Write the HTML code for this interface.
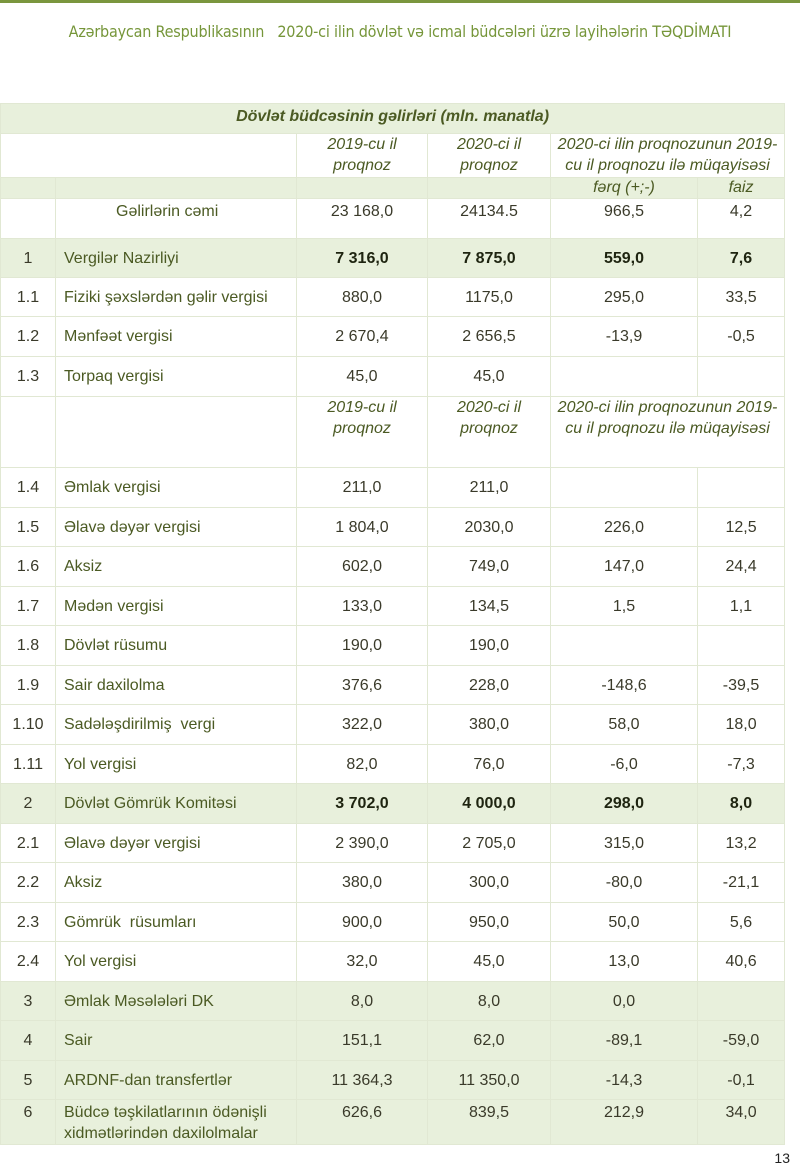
<!DOCTYPE html>
<html><head><meta charset="utf-8"><style>
body{margin:0;width:800px;height:1166px;background:#fff;position:relative;font-family:"Liberation Sans",Arial,sans-serif;overflow:hidden}
.top{position:absolute;left:0;top:0;width:800px;height:3px;background:#7a963e}
.hdr{position:absolute;top:22px;left:0;width:800px;text-align:center;font-size:16px;color:#76963a;font-family:"DejaVu Sans Condensed","Liberation Sans",sans-serif;letter-spacing:-0.2px}
.pg{position:absolute;right:10px;top:1150px;font-size:14px;color:#222}
table{position:absolute;left:0;top:103px;width:784px;border-collapse:collapse;table-layout:fixed}
td{border:1.5px solid #e1e8d3;padding:0;vertical-align:top;font-size:16px;color:#3a3a2a;text-align:center;line-height:21px;white-space:nowrap}
td.l{text-align:left;padding-left:8px;color:#4b5a23}
tr.g td{background:#e8f0dc}
.i{font-style:italic;color:#4b5a23}
b{color:#1e2410}
.t td{padding-top:9px}
</style></head><body>
<div class="top"></div>
<div class="hdr">Azərbaycan Respublikasının &nbsp; 2020-ci ilin dövlət və icmal büdcələri üzrə layihələrin TƏQDİMATI</div>
<table>
<colgroup><col style="width:55px"><col style="width:241px"><col style="width:131px"><col style="width:123px"><col style="width:147px"><col style="width:87px"></colgroup>
<tr class="g" style="height:30px"><td colspan="6" class="i" style="font-weight:bold;padding-top:2px">Dövlət büdcəsinin gəlirləri (mln. manatla)</td></tr>
<tr style="height:44px"><td colspan="2"></td><td class="i">2019-cu il<br>proqnoz</td><td class="i">2020-ci il<br>proqnoz</td><td colspan="2" class="i">2020-ci ilin proqnozunun 2019-<br>cu il proqnozu ilə müqayisəsi</td></tr>
<tr class="g" style="height:21px"><td></td><td></td><td></td><td></td><td class="i" style="line-height:19px">fərq (+;-)</td><td class="i" style="line-height:19px">faiz</td></tr>
<tr class="t" style="height:40px"><td></td><td class="l" style="padding-left:60px;padding-top:2px">Gəlirlərin cəmi</td><td style="padding-top:2px">23 168,0</td><td style="padding-top:2px">24134.5</td><td style="padding-top:2px">966,5</td><td style="padding-top:2px">4,2</td></tr>
<tr class="g t" style="height:39px"><td>1</td><td class="l">Vergilər Nazirliyi</td><td><b>7 316,0</b></td><td><b>7 875,0</b></td><td><b>559,0</b></td><td><b>7,6</b></td></tr>
<tr class="t" style="height:39px"><td>1.1</td><td class="l">Fiziki şəxslərdən gəlir vergisi</td><td>880,0</td><td>1175,0</td><td>295,0</td><td>33,5</td></tr>
<tr class="t" style="height:40px"><td>1.2</td><td class="l">Mənfəət vergisi</td><td>2 670,4</td><td>2 656,5</td><td>-13,9</td><td>-0,5</td></tr>
<tr class="t" style="height:40px"><td>1.3</td><td class="l">Torpaq vergisi</td><td>45,0</td><td>45,0</td><td></td><td></td></tr>
<tr style="height:71px"><td></td><td></td><td class="i" style="padding-top:0">2019-cu il<br>proqnoz</td><td class="i">2020-ci il<br>proqnoz</td><td colspan="2" class="i">2020-ci ilin proqnozunun 2019-<br>cu il proqnozu ilə müqayisəsi</td></tr>
<tr class="t" style="height:39.5px"><td>1.4</td><td class="l">Əmlak vergisi</td><td>211,0</td><td>211,0</td><td></td><td></td></tr>
<tr class="t" style="height:39.5px"><td>1.5</td><td class="l">Əlavə dəyər vergisi</td><td>1 804,0</td><td>2030,0</td><td>226,0</td><td>12,5</td></tr>
<tr class="t" style="height:39.5px"><td>1.6</td><td class="l">Aksiz</td><td>602,0</td><td>749,0</td><td>147,0</td><td>24,4</td></tr>
<tr class="t" style="height:39.5px"><td>1.7</td><td class="l">Mədən vergisi</td><td>133,0</td><td>134,5</td><td>1,5</td><td>1,1</td></tr>
<tr class="t" style="height:39.5px"><td>1.8</td><td class="l">Dövlət rüsumu</td><td>190,0</td><td>190,0</td><td></td><td></td></tr>
<tr class="t" style="height:39.5px"><td>1.9</td><td class="l">Sair daxilolma</td><td>376,6</td><td>228,0</td><td>-148,6</td><td>-39,5</td></tr>
<tr class="t" style="height:39.5px"><td>1.10</td><td class="l">Sadələşdirilmiş &nbsp;vergi</td><td>322,0</td><td>380,0</td><td>58,0</td><td>18,0</td></tr>
<tr class="t" style="height:39.5px"><td>1.11</td><td class="l">Yol vergisi</td><td>82,0</td><td>76,0</td><td>-6,0</td><td>-7,3</td></tr>
<tr class="g t" style="height:39.5px"><td>2</td><td class="l">Dövlət Gömrük Komitəsi</td><td><b>3 702,0</b></td><td><b>4 000,0</b></td><td><b>298,0</b></td><td><b>8,0</b></td></tr>
<tr class="t" style="height:39.5px"><td>2.1</td><td class="l">Əlavə dəyər vergisi</td><td>2 390,0</td><td>2 705,0</td><td>315,0</td><td>13,2</td></tr>
<tr class="t" style="height:39.5px"><td>2.2</td><td class="l">Aksiz</td><td>380,0</td><td>300,0</td><td>-80,0</td><td>-21,1</td></tr>
<tr class="t" style="height:39.5px"><td>2.3</td><td class="l">Gömrük &nbsp;rüsumları</td><td>900,0</td><td>950,0</td><td>50,0</td><td>5,6</td></tr>
<tr class="t" style="height:39.5px"><td>2.4</td><td class="l">Yol vergisi</td><td>32,0</td><td>45,0</td><td>13,0</td><td>40,6</td></tr>
<tr class="g t" style="height:39.5px"><td>3</td><td class="l">Əmlak Məsələləri DK</td><td>8,0</td><td>8,0</td><td>0,0</td><td></td></tr>
<tr class="g t" style="height:39.5px"><td>4</td><td class="l">Sair</td><td>151,1</td><td>62,0</td><td>-89,1</td><td>-59,0</td></tr>
<tr class="g t" style="height:39.5px"><td>5</td><td class="l">ARDNF-dan transfertlər</td><td>11 364,3</td><td>11 350,0</td><td>-14,3</td><td>-0,1</td></tr>
<tr class="g" style="height:42px"><td style="padding-top:2px">6</td><td class="l" style="padding-top:2px">Büdcə təşkilatlarının ödənişli<br>xidmətlərindən daxilolmalar</td><td style="padding-top:2px">626,6</td><td style="padding-top:2px">839,5</td><td style="padding-top:2px">212,9</td><td style="padding-top:2px">34,0</td></tr>
</table>
<div class="pg">13</div>
</body></html>
